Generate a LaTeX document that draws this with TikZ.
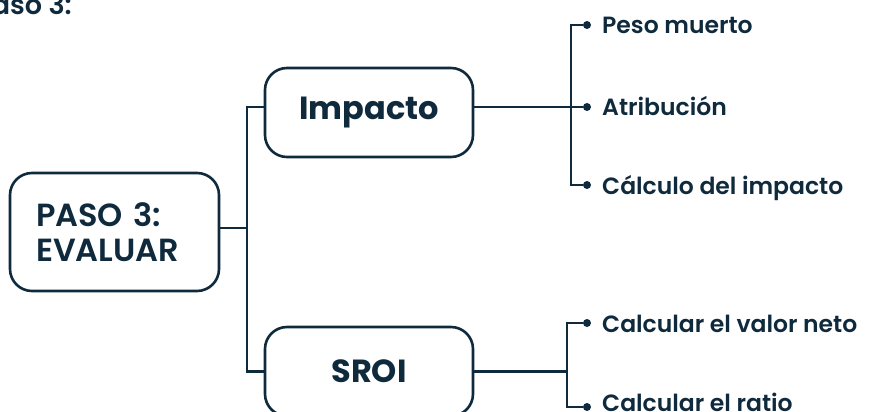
\documentclass[tikz,border=0pt]{standalone}
\usepackage{fontspec}
\setmainfont{Poppins}[UprightFont={* SemiBold}, BoldFont={* Bold}]
\definecolor{navy}{HTML}{0F2A3C}

\begin{document}
\begin{tikzpicture}[x=1pt, y=-1pt, navy,
    box/.style={draw=navy, line width=2.6pt, rounded corners=22pt, fill=white},
    wire/.style={draw=navy, line width=2.6pt},
    dot/.style={circle, fill=navy, inner sep=0pt, minimum size=8pt},
    leaf/.style={anchor=base west, inner sep=0pt, font=\fontsize{23.5}{28}\selectfont}]
    \useasboundingbox (0,0) rectangle (871,412);

    % heading cut at the top edge
    \node[anchor=base east, inner sep=0pt, font=\fontsize{27}{30}\selectfont] (title) at (72,15) {Paso 3:};

    % boxes
    \node[box, minimum width=209pt, minimum height=118pt, text width=157pt, align=left,
          font=\fontsize{32}{35}\selectfont] (paso) at (114.5,232) {PASO 3:\\EVALUAR};
    \node[box, minimum width=208pt, minimum height=89pt, font=\fontsize{32}{38}\bfseries] (imp) at (369,112.5) {Impacto};
    \node[box, minimum width=208pt, minimum height=89pt, font=\fontsize{32}{38}\bfseries] (sroi) at (369,371.5) {SROI};

    % trunk
    \coordinate (tr) at (247,228);
    \draw[wire] ([yshift=4pt]paso.east) -- (tr);
    \draw[wire] ([yshift=5.5pt]imp.west) -| (tr) |- (sroi.west);

    % impacto branch
    \node[dot] (d1) at (587,25) {};
    \node[dot] (d2) at (587,107) {};
    \node[dot] (d3) at (587,185) {};
    \coordinate (j1) at (571,107);
    \draw[wire] ([yshift=5.5pt]imp.east) -- (d2);
    \draw[wire] (d1) -| (j1) |- (d3);
    \node[leaf] (peso) at (602,34) {Peso muerto};
    \node[leaf] (atri) at (602,116) {Atribución};
    \node[leaf] (calc) at (602,194) {Cálculo del impacto};

    % sroi branch
    \node[dot] (d4) at (587,323) {};
    \node[dot] (d5) at (587,407) {};
    \coordinate (j2) at (567,371.5);
    \draw[wire] (sroi.east) -- (j2);
    \draw[wire] (d4) -| (j2) |- (d5);
    \node[leaf] (neto) at (602,332) {Calcular el valor neto};
    \node[leaf] (ratio) at (602,411) {Calcular el ratio};
\end{tikzpicture}
\end{document}
